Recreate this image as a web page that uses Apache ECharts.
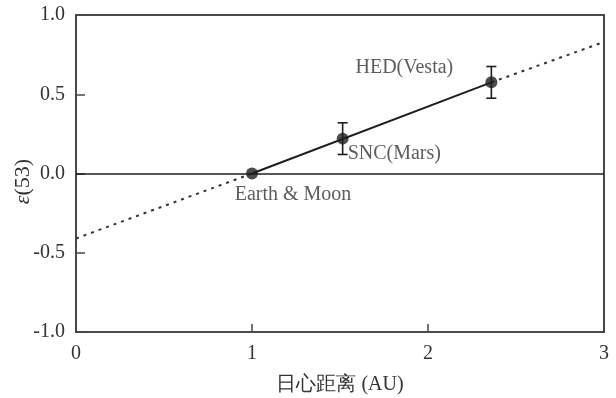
<!DOCTYPE html>
<html>
<head>
<meta charset="utf-8">
<script src="https://cdn.jsdelivr.net/npm/echarts@6/dist/echarts.min.js"></script>
<style>
  html, body { margin: 0; padding: 0; background: #ffffff; }
  #chart { width: 616px; height: 398px; }
</style>
</head>
<body>
<div id="chart"></div>
<script>
// Bodies and their heliocentric distance (AU) vs ε(53)
const bodyNames = ['Earth & Moon', 'SNC(Mars)', 'HED(Vesta)'];
const distanceAU = [1.0, 1.515, 2.36];
const epsilon53 = [0.0, 0.22, 0.575];
const epsilonErr = [0, 0.1, 0.1];

// Correlation line: measured segment and its extrapolation to the axis limits
const fitX = [0, 1.0, 2.36, 3];
const fitY = [-0.41, 0.0, 0.575, 0.83];

const xTicks = [0, 1, 2, 3];
const yTicks = [-1.0, -0.5, 0.0, 0.5, 1.0];

const serif = '"Liberation Serif", "Times New Roman", serif';
const ink = '#1e1e1e';
const frame = '#4a4a4a';
const textColor = '#333333';

const chart = echarts.init(document.getElementById('chart'), null, { renderer: 'canvas' });

const pointData = distanceAU.map((x, i) => [x, epsilon53[i]]);
const errData = distanceAU.map((x, i) => [x, epsilon53[i] - epsilonErr[i], epsilon53[i] + epsilonErr[i]])
  .filter((d, i) => epsilonErr[i] > 0);

// label placement per body, relative to its marker
const labelOffsets = [[41, 21], [5, 15], [-87, -15]];
const labelAlign = ['center', 'left', 'center'];

const option = {
  backgroundColor: '#ffffff',
  animation: false,
  grid: {
    left: 76, right: 12, top: 15, bottom: 66,
    containLabel: false,
    outerBoundsMode: 'none',
    show: true, borderColor: frame, borderWidth: 2, backgroundColor: 'transparent'
  },
  xAxis: {
    type: 'value',
    min: xTicks[0], max: xTicks[xTicks.length - 1], interval: 1,
    name: '日心距离 (AU)',
    nameLocation: 'middle',
    nameGap: 43,
    nameMoveOverlap: false,
    nameTextStyle: { fontFamily: serif, fontSize: 20, color: textColor },
    axisLine: { show: true, onZero: false, lineStyle: { color: frame, width: 2 } },
    axisTick: { show: true, inside: true, length: 8, lineStyle: { color: frame, width: 1.5 } },
    axisLabel: { fontFamily: serif, fontSize: 20, color: textColor, margin: 12,
      formatter: v => xTicks.includes(v) ? String(v) : '' },
    splitLine: { show: false }
  },
  yAxis: {
    type: 'value',
    min: yTicks[0], max: yTicks[yTicks.length - 1], interval: 0.5,
    name: '{i|ε}(53)',
    nameLocation: 'middle',
    nameGap: 42,
    nameMoveOverlap: false,
    nameRotate: 90,
    nameTextStyle: {
      fontFamily: serif, fontSize: 22, color: textColor, padding: [0, 16, 0, 0],
      rich: { i: { fontFamily: serif, fontStyle: 'italic', fontSize: 22, color: textColor } }
    },
    axisLine: { show: true, onZero: false, lineStyle: { color: frame, width: 2 } },
    axisTick: { show: true, inside: true, length: 9, lineStyle: { color: frame, width: 1.5 } },
    axisLabel: { fontFamily: serif, fontSize: 20, color: textColor, margin: 11,
      formatter: v => v.toFixed(1) },
    splitLine: { show: false }
  },
  series: [
    {
      // dashed extrapolation toward x = 0
      type: 'line',
      data: [[fitX[0], fitY[0]], [fitX[1], fitY[1]]],
      symbol: 'none',
      lineStyle: { color: '#333', width: 2, type: [3, 5] },
      z: 2,
      markLine: {
        silent: true, symbol: 'none', label: { show: false },
        lineStyle: { color: ink, width: 1.5, type: 'solid' },
        data: [{ yAxis: 0 }]
      }
    },
    {
      // solid segment spanning the measured bodies
      type: 'line',
      data: [[fitX[1], fitY[1]], [fitX[2], fitY[2]]],
      symbol: 'none',
      lineStyle: { color: ink, width: 2 },
      z: 2
    },
    {
      // dashed extrapolation beyond Vesta
      type: 'line',
      data: [[fitX[2], fitY[2]], [fitX[3], fitY[3]]],
      symbol: 'none',
      lineStyle: { color: '#333', width: 2, type: [3, 5] },
      z: 2
    },
    {
      // error bars
      type: 'custom',
      data: errData,
      z: 3,
      renderItem: function (params, api) {
        const x = api.value(0);
        const lo = api.coord([x, api.value(1)]);
        const hi = api.coord([x, api.value(2)]);
        const cap = 5;
        const style = { stroke: ink, lineWidth: 1.6 };
        return {
          type: 'group',
          children: [
            { type: 'line', shape: { x1: lo[0], y1: lo[1], x2: hi[0], y2: hi[1] }, style },
            { type: 'line', shape: { x1: lo[0] - cap, y1: lo[1], x2: lo[0] + cap, y2: lo[1] }, style },
            { type: 'line', shape: { x1: hi[0] - cap, y1: hi[1], x2: hi[0] + cap, y2: hi[1] }, style }
          ]
        };
      }
    },
    {
      type: 'scatter',
      z: 4,
      symbol: 'circle',
      symbolSize: 12,
      itemStyle: { color: ink },
      data: pointData.map((p, i) => ({
        value: p,
        label: {
          show: true,
          formatter: bodyNames[i],
          position: 'inside',
          offset: labelOffsets[i],
          align: labelAlign[i],
          verticalAlign: 'middle',
          fontFamily: serif,
          fontSize: 20,
          color: textColor
        }
      }))
    }
  ]
};

chart.setOption(option);
</script>
</body>
</html>
